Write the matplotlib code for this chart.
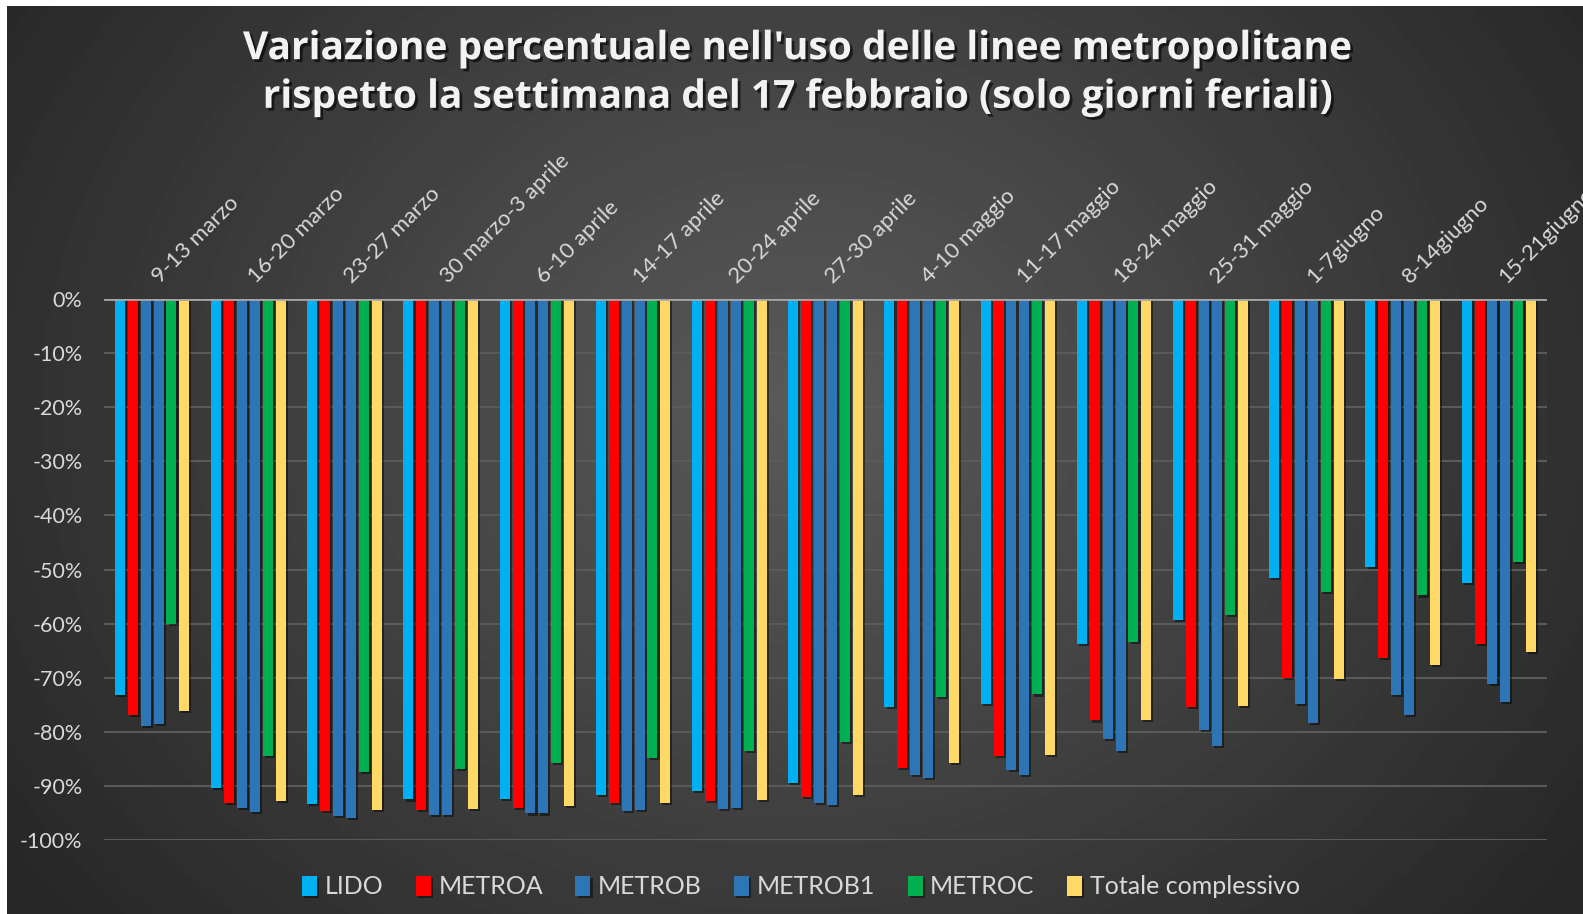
import numpy as np
import matplotlib
matplotlib.use('Agg')
import matplotlib.pyplot as plt
import matplotlib.patheffects as pe
from matplotlib.ticker import PercentFormatter

plt.rcParams['font.family'] = ['Lato', 'DejaVu Sans']
plt.rcParams['axes.unicode_minus'] = False

# settimane (solo giorni feriali)
weeks = ['9-13 marzo', '16-20 marzo', '23-27 marzo', '30 marzo-3 aprile',
         '6-10 aprile', '14-17 aprile', '20-24 aprile', '27-30 aprile',
         '4-10 maggio', '11-17 maggio', '18-24 maggio', '25-31 maggio',
         '1-7giugno', '8-14giugno', '15-21giugno']

# variazione rispetto alla settimana del 17 febbraio
lido = [-0.732, -0.904, -0.934, -0.925, -0.924, -0.917, -0.909, -0.895,
        -0.754, -0.748, -0.638, -0.594, -0.516, -0.496, -0.525]
metroa = [-0.769, -0.932, -0.946, -0.944, -0.941, -0.932, -0.927, -0.920,
          -0.866, -0.844, -0.779, -0.754, -0.701, -0.664, -0.638]
metrob = [-0.790, -0.941, -0.956, -0.954, -0.951, -0.946, -0.942, -0.932,
          -0.879, -0.870, -0.814, -0.796, -0.748, -0.732, -0.712]
metrob1 = [-0.785, -0.948, -0.959, -0.954, -0.951, -0.944, -0.941, -0.935,
           -0.886, -0.879, -0.835, -0.827, -0.783, -0.769, -0.744]
metroc = [-0.601, -0.845, -0.874, -0.868, -0.857, -0.849, -0.835, -0.818,
          -0.736, -0.731, -0.634, -0.584, -0.542, -0.548, -0.486]
totale = [-0.762, -0.927, -0.944, -0.942, -0.937, -0.931, -0.926, -0.916,
          -0.857, -0.843, -0.778, -0.753, -0.702, -0.677, -0.653]

series = ['LIDO', 'METROA', 'METROB', 'METROB1', 'METROC', 'Totale complessivo']
values = [lido, metroa, metrob, metrob1, metroc, totale]
colors = ['#00B0F0', '#FF0000', '#2E75B6', '#2E75B6', '#00B050', '#FFD966']

W, H = 1583, 914
fig = plt.figure(figsize=(W / 100, H / 100), dpi=100, facecolor='white')

# sfondo scuro con sfumatura radiale (stile Excel)
bg = fig.add_axes([7 / W, 0, 1 - 7 / W, 1 - 6 / H])
gx, gy = np.meshgrid(np.linspace(0, 1, 400), np.linspace(0, 1, 240))
r = np.clip(np.sqrt(((gx - 0.5) / 0.62) ** 2 + ((gy - 0.44) / 0.9) ** 2), 0, 1)
shade = (38 + 52 * (1 - r)) / 255
bg.imshow(shade, cmap='gray', vmin=0, vmax=1, aspect='auto', extent=(0, 1, 1, 0))
bg.set_axis_off()

ax = fig.add_axes([104 / W, 1 - 840 / H, (1547 - 104) / W, (840 - 299) / H])
ax.set_facecolor('none')

x = np.arange(len(weeks))
pitch = 0.134
width = 0.104
shadow = [pe.SimplePatchShadow(offset=(1.5, -1.5), shadow_rgbFace='black', alpha=0.45), pe.Normal()]
for k, (name, vals, col) in enumerate(zip(series, values, colors)):
    bars = ax.bar(x + (k - 2.5) * pitch, vals, width, color=col, label=name, zorder=3)
    for b in bars:
        b.set_path_effects(shadow)

ax.set_xlim(-0.5, len(weeks) - 0.5)
ax.set_ylim(-1.0, 0)
ax.set_yticks(np.linspace(-1.0, 0.0, 11))
ax.yaxis.set_major_formatter(PercentFormatter(1.0, decimals=0))
ax.grid(axis='y', color='#5a5a5a', linewidth=1.5, zorder=0)
ax.axhline(0, color='#a6a6a6', linewidth=2, zorder=4)
for s in ax.spines.values():
    s.set_visible(False)

# etichette in alto, un po' a destra del centro del gruppo
ax.xaxis.tick_top()
ax.set_xticks(x + 0.08)
ax.set_xticklabels(weeks, rotation=45, ha='left', va='baseline', rotation_mode='anchor',
                   fontsize=16, color='#d9d9d9')
ax.tick_params(axis='x', length=0, pad=11)
ax.tick_params(axis='y', length=0, pad=15.5, labelsize=15.5, labelcolor='#d9d9d9')

fig.text(0.503, 1 - 73 / H,
         "Variazione percentuale nell'uso delle linee metropolitane\n"
         "rispetto la settimana del 17 febbraio (solo giorni feriali)",
         ha='center', va='center', fontsize=28, fontweight='bold', color='#f2f2f2',
         family=['Open Sans', 'DejaVu Sans'], linespacing=1.32,
         path_effects=[pe.SimplePatchShadow(offset=(2, -2), shadow_rgbFace='black', alpha=0.6),
                       pe.Normal()])

fig.legend(loc='center', bbox_to_anchor=(0.506, 1 - 887 / H), ncol=6, frameon=False,
           fontsize=18, labelcolor='#d9d9d9', handlelength=0.6, handleheight=0.9,
           handletextpad=0.3, columnspacing=1.3)

fig.savefig('out.png', dpi=100, facecolor=fig.get_facecolor())
